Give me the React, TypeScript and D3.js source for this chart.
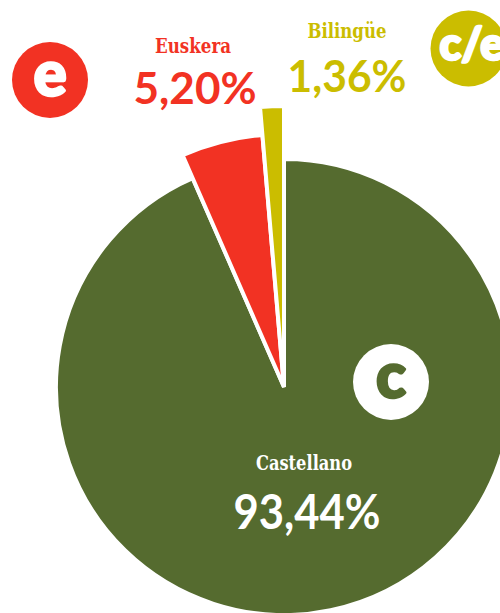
import React from "react";
import { arc, pie } from "d3";

const categories = ["Castellano", "Euskera", "Bilingüe"];
const values = [93.44, 5.2, 1.36];
const valueLabels = ["93,44%", "5,20%", "1,36%"];
const iconLabels = ["c", "e", "c/e"];
const colors = ["#556b2f", "#f23223", "#cbbd00"];
const radii = [228, 253, 281];
const labelPos = [
  { x: 307, nameX: 304, name: 470, value: 529, size: 47, nameSize: 20, nameW: 96, valueW: 147 },
  { x: 195, nameX: 193, name: 53, value: 104, size: 44, nameSize: 20, nameW: 76, valueW: 123 },
  { x: 347, nameX: 347, name: 38, value: 92, size: 43, nameSize: 20, nameW: 79, valueW: 119 },
];
const iconPos = [
  { x: 391, y: 382, r: 38, tx: 391, fill: "#fff", text: "#556b2f", size: 62 },
  { x: 50, y: 80, r: 38, tx: 50, fill: "#f23223", text: "#fff", size: 62 },
  { x: 468.5, y: 48.5, r: 38, tx: 472, fill: "#cbbd00", text: "#fff", size: 45 },
];

const width = 500;
const height = 613;
const cx = 284;
const cy = 387;
const slab = "'DejaVu Serif Condensed', 'DejaVu Serif', serif";
const sans = "Lato, 'Noto Sans', sans-serif";

const App = () => {
  const slices = pie<number>().sort(null)(values);
  const path = arc<any>().innerRadius(0);

  return (
    <svg
      width={width}
      height={height}
      style={{ position: "absolute", left: 0, top: 0, display: "block" }}
    >
      <rect width={width} height={height} fill="#fff" />
      <g transform={`translate(${cx},${cy})`}>
        {slices.map((s, i) => (
          <path
            key={categories[i]}
            d={path({ ...s, outerRadius: radii[i] }) as string}
            fill={colors[i]}
            stroke="#fff"
            strokeWidth={4}
          />
        ))}
      </g>
      {iconPos.map((d, i) => (
        <g key={iconLabels[i]}>
          <circle cx={d.x} cy={d.y} r={d.r} fill={d.fill} />
          <text
            x={d.tx}
            y={d.y}
            dy="0.26em"
            textAnchor="middle"
            fontFamily="Lato, sans-serif"
            fontWeight={900}
            fontSize={d.size}
            fill={d.text}
            stroke={d.text}
            strokeWidth={2.5}
            strokeLinejoin="round"
          >
            {iconLabels[i]}
          </text>
        </g>
      ))}
      {categories.map((c, i) => (
        <g key={c} fill={i === 0 ? "#fff" : colors[i]} textAnchor="middle">
          <text
            x={labelPos[i].nameX}
            y={labelPos[i].name}
            fontFamily={slab}
            fontWeight={700}
            fontSize={labelPos[i].nameSize}
            textLength={labelPos[i].nameW}
            lengthAdjust="spacingAndGlyphs"
          >
            {c}
          </text>
          <text
            x={labelPos[i].x}
            y={labelPos[i].value}
            fontFamily={sans}
            fontWeight={700}
            fontSize={labelPos[i].size}
            textLength={labelPos[i].valueW}
            lengthAdjust="spacingAndGlyphs"
          >
            {valueLabels[i]}
          </text>
        </g>
      ))}
    </svg>
  );
};

export default App;
